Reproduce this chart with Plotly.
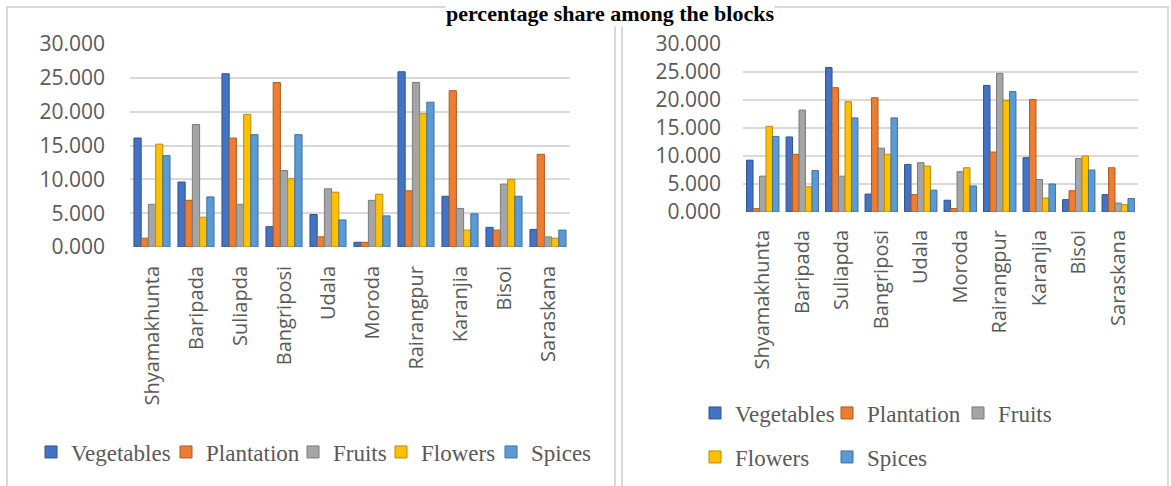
import plotly.graph_objects as go

W, H = 1171, 486

categories = ["Shyamakhunta", "Baripada", "Suliapda", "Bangriposi", "Udala",
              "Moroda", "Rairangpur", "Karanjia", "Bisoi", "Saraskana"]
series_names = ["Vegetables", "Plantation", "Fruits", "Flowers", "Spices"]
colors = ["#4472C4", "#ED7D31", "#A5A5A5", "#FFC000", "#5B9BD5"]
edge_colors = ["#2F528F", "#AE5A21", "#7B7B7B", "#BC8C00", "#41719C"]

# Left chart
veg_l = [16.1, 9.6, 25.6, 3.0, 4.8, 0.7, 25.9, 7.5, 2.9, 2.6]
plant_l = [1.3, 6.9, 16.1, 24.3, 1.5, 0.7, 8.3, 23.1, 2.5, 13.7]
fruits_l = [6.3, 18.1, 6.3, 11.3, 8.6, 6.9, 24.3, 5.7, 9.3, 1.5]
flowers_l = [15.2, 4.4, 19.6, 10.1, 8.1, 7.8, 19.7, 2.5, 10.0, 1.3]
spices_l = [13.5, 7.4, 16.6, 16.6, 4.0, 4.6, 21.4, 4.9, 7.5, 2.5]

# Right chart
veg_r = [9.25, 13.4, 25.8, 3.2, 8.5, 2.1, 22.6, 9.7, 2.2, 3.1]
plant_r = [0.6, 10.3, 22.2, 20.4, 3.1, 0.6, 10.7, 20.1, 3.8, 7.9]
fruits_r = [6.4, 18.2, 6.4, 11.4, 8.8, 7.2, 24.75, 5.8, 9.55, 1.6]
flowers_r = [15.3, 4.5, 19.7, 10.3, 8.2, 7.9, 19.9, 2.5, 10.0, 1.3]
spices_r = [13.5, 7.4, 16.8, 16.8, 3.9, 4.65, 21.5, 5.0, 7.5, 2.4]

title_text = "percentage share among the blocks"
y_ticks = [0, 5, 10, 15, 20, 25, 30]

left_series = [veg_l, plant_l, fruits_l, flowers_l, spices_l]
right_series = [veg_r, plant_r, fruits_r, flowers_r, spices_r]

# legend entry placement (pixel x of each entry, pixel y of its row)
left_leg_x = [31, 166, 293, 381, 491]
left_leg_y = [452, 452, 452, 452, 452]
right_leg_x = [695, 827, 958, 695, 827]
right_leg_y = [413, 413, 413, 457, 457]

fig = go.Figure()
legend_layouts = {}
leg_font = dict(family="Liberation Serif", size=23, color="#595959")
n = 0
for side, series, lx, ly, xa, ya in (
        ("l", left_series, left_leg_x, left_leg_y, "x", "y"),
        ("r", right_series, right_leg_x, right_leg_y, "x2", "y2")):
    for i, (name, vals) in enumerate(zip(series_names, series)):
        n += 1
        key = "legend" if n == 1 else f"legend{n}"
        fig.add_trace(go.Bar(
            x=categories, y=vals, name=name, xaxis=xa, yaxis=ya,
            marker=dict(color=colors[i], line=dict(color=edge_colors[i], width=1)),
            legend=key,
        ))
        legend_layouts[key] = dict(
            orientation="h", x=lx[i] / W, xanchor="left",
            y=1 - ly[i] / H, yanchor="middle", font=leg_font,
            bgcolor="rgba(0,0,0,0)")

tick_font = dict(family="Open Sans", size=20, color="#595959")
ytick_font = dict(family="Open Sans", size=21, color="#595959")
yax = dict(range=[0, 30], tickvals=y_ticks, tickformat=".3f",
           showgrid=True, gridcolor="#D9D9D9", gridwidth=2,
           zeroline=False, showline=False, ticks="", tickfont=ytick_font,
           fixedrange=True)
xax = dict(type="category", tickangle=-90, showgrid=False, showline=False,
           ticks="", tickfont=tick_font, fixedrange=True)

fig.update_layout(
    width=W, height=H, autosize=False,
    margin=dict(l=0, r=0, t=0, b=0, autoexpand=False),
    paper_bgcolor="white", plot_bgcolor="white",
    barmode="group", bargap=0.18, bargroupgap=0,
    xaxis=dict(domain=[130 / W, 570 / W], anchor="y", ticklabelstandoff=14, **xax),
    yaxis=dict(domain=[1 - 247 / H, 1 - 44 / H], anchor="x", ticklabelstandoff=24, **yax),
    xaxis2=dict(domain=[743 / W, 1138 / W], anchor="y2", ticklabelstandoff=13, **xax),
    yaxis2=dict(domain=[1 - 212 / H, 1 - 44 / H], anchor="x2", ticklabelstandoff=21, **yax),
    showlegend=True,
    **legend_layouts,
)

# panel borders
fig.add_shape(type="rect", xref="paper", yref="paper",
              x0=7 / W, x1=615 / W, y0=-0.05, y1=1 - 7 / H,
              line=dict(color="#D9D9D9", width=2), layer="below")
fig.add_shape(type="rect", xref="paper", yref="paper",
              x0=622 / W, x1=1168 / W, y0=-0.05, y1=1 - 7 / H,
              line=dict(color="#D9D9D9", width=2), layer="below")

fig.add_annotation(text="<b>" + title_text + "</b>", xref="paper", yref="paper",
                   x=610 / W, y=1, xanchor="center", yanchor="top",
                   showarrow=False, bgcolor="white", borderpad=0,
                   font=dict(family="Liberation Serif", size=22, color="black"))

fig.write_html("out.html")
